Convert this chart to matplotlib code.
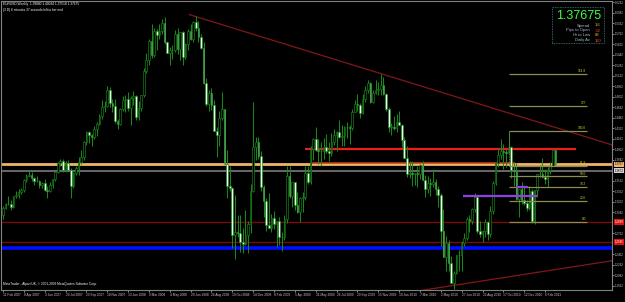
import matplotlib
matplotlib.use("Agg")
import matplotlib.pyplot as plt
from matplotlib.transforms import blended_transform_factory
from matplotlib.patches import Rectangle

# ---------------- data ----------------
first_open = 1.2990
highs = [
 # 2007
 1.3135,1.3185,1.3290,1.3220,1.3290,1.3370,1.3390,1.3405,1.3545,1.3615,1.3680,1.3650,1.3580,1.3585,1.3530,1.3500,
 1.3545,1.3435,1.3495,1.3545,1.3665,1.3805,1.3845,1.3850,1.3815,1.3840,1.3720,1.3645,1.3750,1.3875,1.3990,1.4130,
 1.4280,1.4280,1.4230,1.4350,1.4410,1.4530,1.4750,1.4730,1.4965,1.4950,1.4760,1.4760,1.4460,1.4630,1.4815,
 # 2008
 1.4825,1.4875,1.4815,1.4890,1.4820,1.4735,1.4830,1.5240,1.5460,1.5675,1.5905,1.5845,1.5825,1.5915,1.5985,1.6020,
 1.5650,1.5560,1.5595,1.5820,1.5845,1.5785,1.5800,1.5625,1.5825,1.5905,1.5960,1.6038,1.5950,1.5760,1.5630,1.5085,
 1.4905,1.4935,1.4745,1.4335,1.4575,1.4865,1.4610,1.3985,1.3745,1.3420,1.3300,1.3000,1.2990,1.2795,1.3070,1.2905,
 1.3475,1.4720,1.4190,1.4190,
 # 2009
 1.3970,1.3450,1.3260,1.3335,1.3010,1.3065,1.2910,1.2960,1.2740,1.2995,1.3740,1.3740,1.3500,1.3505,1.3345,1.3270,
 1.3350,1.3740,1.3740,1.4050,1.4170,1.4340,1.4150,1.4105,1.4165,1.4235,1.4115,1.4245,1.4305,1.4270,1.4445,1.4375,
 1.4350,1.4415,1.4370,1.4615,1.4755,1.4845,1.4700,1.4845,1.4970,1.5060,1.5030,1.4900,1.5060,1.5020,1.5145,1.5100,
 1.4860,1.4640,1.4405,1.4510,
 # 2010
 1.4530,1.4580,1.4385,1.4190,1.4045,1.3825,1.3820,1.3640,1.3740,1.3775,1.3825,1.3600,1.3585,1.3560,1.3695,1.3545,
 1.3445,1.3330,1.3095,1.2675,1.2620,1.2375,1.2145,1.2390,1.2470,1.2595,1.2720,1.2965,1.2990,1.3110,1.3335,1.3290,
 1.2910,1.2775,1.2935,1.2900,1.3135,1.3510,1.3790,1.4020,1.4160,1.4080,1.4000,1.4282,1.4045,1.3785,1.3785,1.3400,
 1.3495,1.3440,1.3220,1.3435,
 # 2011
 1.3400,1.3385,1.3620,1.3760,1.3860,1.3695,1.3725,1.3800,1.3990,1.40034,
]
lows = [
 # 2007
 1.2930,1.3090,1.3150,1.3080,1.3100,1.3260,1.3250,1.3320,1.3350,1.3500,1.3570,1.3510,1.3460,1.3500,1.3410,1.3405,
 1.3370,1.3260,1.3345,1.3410,1.3520,1.3630,1.3740,1.3650,1.3650,1.3680,1.3260,1.3410,1.3600,1.3600,1.3780,1.3830,
 1.4070,1.4090,1.4050,1.4150,1.4200,1.4365,1.4460,1.4560,1.4640,1.4640,1.4560,1.4400,1.4310,1.4370,1.4580,
 # 2008
 1.4570,1.4580,1.4365,1.4675,1.4440,1.4450,1.4580,1.4800,1.5160,1.5290,1.5390,1.5410,1.5510,1.5675,1.5755,1.5610,
 1.5460,1.5285,1.5375,1.5485,1.5455,1.5365,1.5285,1.5380,1.5515,1.5665,1.5630,1.5800,1.5640,1.5525,1.4990,1.4660,
 1.4580,1.4590,1.4270,1.3880,1.4045,1.4440,1.3770,1.3260,1.3360,1.2500,1.2330,1.2660,1.2440,1.2420,1.2545,1.2425,
 1.2715,1.3350,1.3840,1.3855,
 # 2009
 1.3360,1.2965,1.2760,1.2800,1.2735,1.2790,1.2510,1.2545,1.2455,1.2610,1.2880,1.3255,1.3115,1.3070,1.3030,1.2890,
 1.3050,1.3230,1.3465,1.3470,1.3840,1.3980,1.3780,1.3750,1.3850,1.3945,1.3820,1.3890,1.4060,1.3970,1.4170,1.4050,
 1.4050,1.4165,1.4080,1.4290,1.4565,1.4580,1.4480,1.4530,1.4715,1.4850,1.4700,1.4705,1.4835,1.4830,1.4825,1.4820,
 1.4585,1.4255,1.4220,1.4290,
 # 2010
 1.4255,1.4365,1.4030,1.3860,1.3580,1.3560,1.3440,1.3455,1.3430,1.3540,1.3525,1.3265,1.3335,1.3280,1.3420,1.3305,
 1.3115,1.2520,1.2350,1.2145,1.2145,1.1960,1.1876,1.2105,1.2150,1.2150,1.2525,1.2615,1.2745,1.2860,1.3045,1.2730,
 1.2660,1.2590,1.2660,1.2620,1.2665,1.3015,1.3450,1.3725,1.3850,1.3700,1.3725,1.3935,1.3560,1.3445,1.3220,1.2969,
 1.3160,1.3150,1.3055,1.3070,
 # 2011
 1.2875,1.2867,1.3265,1.3580,1.3565,1.3470,1.3430,1.3620,1.3745,1.37518,
]
closes = [
 # 2007
 1.3110,1.3160,1.3170,1.3120,1.3285,1.3300,1.3355,1.3380,1.3525,1.3595,1.3610,1.3560,1.3520,1.3515,1.3450,1.3480,
 1.3375,1.3365,1.3455,1.3540,1.3655,1.3785,1.3815,1.3685,1.3785,1.3680,1.3440,1.3635,1.3720,1.3800,1.3875,1.4105,
 1.4265,1.4210,1.4180,1.4310,1.4390,1.4500,1.4650,1.4660,1.4900,1.4710,1.4660,1.4425,1.4380,1.4610,1.4745,
 # 2008
 1.4765,1.4630,1.4780,1.4815,1.4495,1.4635,1.4825,1.5185,1.5360,1.5650,1.5430,1.5795,1.5745,1.5805,1.5930,1.5630,
 1.5465,1.5505,1.5515,1.5760,1.5530,1.5785,1.5410,1.5605,1.5805,1.5675,1.5935,1.5855,1.5705,1.5540,1.5010,1.4690,
 1.4860,1.4670,1.4280,1.4215,1.4470,1.4610,1.3775,1.3435,1.3405,1.2690,1.2740,1.2715,1.2580,1.2560,1.2690,1.2865,
 1.3360,1.4040,1.4105,1.3900,
 # 2009
 1.3430,1.3215,1.2840,1.2800,1.2950,1.2860,1.2910,1.2665,1.2660,1.2935,1.3585,1.3280,1.3495,1.3150,1.3045,1.3250,
 1.3275,1.3630,1.3500,1.4000,1.4160,1.3985,1.3975,1.3970,1.4040,1.3970,1.3945,1.4115,1.4215,1.4255,1.4180,1.4205,
 1.4335,1.4345,1.4325,1.4570,1.4695,1.4680,1.4550,1.4760,1.4905,1.5010,1.4720,1.4860,1.4895,1.4910,1.4975,1.4845,
 1.4610,1.4340,1.4345,1.4320,
 # 2010
 1.4410,1.4375,1.4145,1.3865,1.3620,1.3630,1.3615,1.3630,1.3625,1.3760,1.3530,1.3400,1.3485,1.3475,1.3505,1.3390,
 1.3295,1.2755,1.2355,1.2575,1.2265,1.1965,1.2110,1.2385,1.2380,1.2565,1.2640,1.2935,1.2905,1.3085,1.3275,1.2750,
 1.2710,1.2760,1.2895,1.2705,1.3055,1.3480,1.3785,1.3905,1.3975,1.3950,1.3945,1.4030,1.3680,1.3670,1.3240,1.3395,
 1.3220,1.3175,1.3105,1.3365,
 # 2011
 1.2905,1.3380,1.3615,1.3625,1.3580,1.3550,1.3690,1.3750,1.3985,1.37675,
]

date_labels = ["11 Feb 2007", "8 Apr 2007", "3 Jun 2007", "29 Jul 2007", "23 Sep 2007", "18 Nov 2007",
               "13 Jan 2008", "9 Mar 2008", "4 May 2008", "29 Jun 2008", "24 Aug 2008", "19 Oct 2008",
               "14 Dec 2008", "8 Feb 2009", "5 Apr 2009", "31 May 2009", "26 Jul 2009", "20 Sep 2009",
               "15 Nov 2009", "10 Jan 2010", "7 Mar 2010", "2 May 2010", "27 Jun 2010", "22 Aug 2010",
               "17 Oct 2010", "12 Dec 2010", "6 Feb 2011"]
date_label_bars = [0, 8, 16, 24, 32, 40, 48, 56, 64, 72, 80, 88, 96, 104, 112, 120, 128, 136, 144,
                   152, 160, 168, 176, 184, 192, 200, 208]

price_ticks = [1.6242, 1.6082, 1.5922, 1.5762, 1.5602, 1.5442, 1.5282, 1.5122, 1.4962, 1.4802,
               1.4642, 1.4482, 1.4322, 1.4162, 1.4002, 1.3842, 1.3522, 1.3362, 1.3202,
               1.3042, 1.2722, 1.2402, 1.2242, 1.2082, 1.1922]

# horizontal levels
bid_price = 1.37675
level_gray = 1.3672
level_darkred = [1.2889, 1.2585]
level_blue = 1.2493
red_seg = (116, 220, 1.4003)
orange_seg = (118, 196.5, 1.3790)
# trendlines (bar, price)
upper_trend = [(71.5, 1.6052), (145.0, 1.5152)]
lower_trend = [(161.0, 1.1850), (233.7, 1.2300)]
# fibonacci
fib_low, fib_high = 1.2889, 1.4282
fib_ratios = [0.0, 0.236, 0.382, 0.5, 0.618, 1.0, 1.27, 1.618]
fib_names = ["0.0", "23.6", "38.2", "50.0", "61.8", "100.0", "127", "161.8"]
fib_bars = (194.0, 224.0)
purple_segs = [(176.5, 205.0, 1.3285), (196.9, 201.5, 1.3420)]

header = "EURUSD,Weekly  1.39880 1.40034 1.37518 1.37675"
header2 = "(3 D) 6 minutes 37 seconds left to bar end"
footer = "MetaTrader - Alpari UK, \u00a9 2001-2009 MetaQuotes Software Corp."
info_labels = ["Spread", "Pips to Open", "Hi to Low", "Daily Av"]
info_values = ["1.6", "-32", "88", "120"]
info_colors = ["#e8c020", "#ff5030", "#e8c020", "#ff5030"]

# ---------------- layout ----------------
FONT = "Liberation Sans"
W, H = 625, 302
fig = plt.figure(figsize=(W / 100, H / 100), dpi=100, facecolor="black")
ax_l, ax_r, ax_t, ax_b = 1, 612, 1, 290
ax = fig.add_axes([ax_l / W, 1 - ax_b / H, (ax_r - ax_l) / W, (ax_b - ax_t) / H])
ax.set_facecolor("black")

scale = 656.0
p_top = 1.6038 + (15.5 - ax_t) / scale
p_bot = 1.6038 - (ax_b - 15.5) / scale
ax.set_ylim(p_bot, p_top)
bw = 2.606
ax.set_xlim((ax_l - 3) / bw, (ax_r - 3) / bw)

n = len(closes)
opens = [first_open] + closes[:-1]
xs = list(range(n))
WICK = "#17871a"
ax.vlines(xs, lows, highs, colors=WICK, linewidth=0.75, zorder=3)
for i in xs:
    o, c = opens[i], closes[i]
    bottom = min(o, c)
    h = max(abs(c - o), 0.0006)
    fc = "#000000" if c >= o else "#e8ffe8"
    ax.add_patch(Rectangle((i - 0.32, bottom), 0.64, h, facecolor=fc, edgecolor=WICK,
                           linewidth=0.45, zorder=4))

# horizontal lines
ax.axhline(bid_price, color="#f0b466", linewidth=2.0, zorder=2)
ax.axhline(level_gray, color="#7a7a7a", linewidth=1.2, zorder=2)
for lv in level_darkred:
    ax.axhline(lv, color="#780c0c", linewidth=1.0, zorder=2)
ax.axhline(level_blue, color="#0010ff", linewidth=2.6, zorder=2)
ax.hlines(red_seg[2], red_seg[0], red_seg[1], color="#ee1c1c", linewidth=1.6, zorder=2)
ax.hlines(orange_seg[2], orange_seg[0], orange_seg[1], color="#c84020", linewidth=1.1, zorder=2)

# trendlines (rays to the right)
for pts in (upper_trend, lower_trend):
    (x0, y0), (x1, y1) = pts
    slope = (y1 - y0) / (x1 - x0)
    xe = 240
    ax.plot([x0, xe], [y0, y0 + slope * (xe - x0)], color="#801818", linewidth=0.9, zorder=2)

# fibonacci
for r, name in zip(fib_ratios, fib_names):
    lv = fib_low + r * (fib_high - fib_low)
    ax.hlines(lv, fib_bars[0], fib_bars[1], color="#8c8c50", linewidth=0.9, zorder=5)
    ax.text(fib_bars[1] - 0.3, lv + 0.0012, name, color="#d8d820", fontsize=2.3,
            ha="right", va="bottom", zorder=6, family=FONT)
ax.vlines(fib_bars[0], fib_low + 0.618 * (fib_high - fib_low), fib_high, color="#8c8c50",
          linewidth=0.6, linestyles=(0, (1, 1)), zorder=5)
for x0, x1, lv in purple_segs:
    ax.hlines(lv, x0, x1, color="#9040e0", linewidth=1.6, zorder=5)

# axes styling
for s in ax.spines.values():
    s.set_color("#808080")
    s.set_linewidth(0.8)
ax.yaxis.tick_right()
ax.set_yticks(price_ticks)
ax.set_yticklabels([f"{p:.4f}" for p in price_ticks], family=FONT)
ax.tick_params(axis="y", colors="#c8c8c8", labelsize=2.1, length=1.5, width=0.5, pad=0.8)
ax.set_xticks(date_label_bars)
ax.set_xticklabels(date_labels, ha="left", family=FONT)
ax.tick_params(axis="x", colors="#c8c8c8", labelsize=2.3, length=1.5, width=0.5, pad=1)

# price boxes on axis
tr = blended_transform_factory(ax.transAxes, ax.transData)
boxes = [(bid_price, "#f0b466", "black"), (level_gray, "#d0d0d0", "black"),
         (level_darkred[0], "#e01010", "white"), (level_darkred[1], "#e01010", "white")]
for lv, fc, tc in boxes:
    ax.text(1.004, lv, f"{lv:.4f}", transform=tr, fontsize=2.1, color=tc, ha="left", va="center",
            bbox=dict(facecolor=fc, edgecolor="none", pad=0.5), clip_on=False, zorder=10,
            family=FONT)

# texts
fig.text(3 / W, 1 - 4 / H, header, color="white", fontsize=2.3, ha="left", va="center", family=FONT)
fig.text(3 / W, 1 - 10 / H, header2, color="white", fontsize=2.3, ha="left", va="center", family=FONT)
fig.text(3 / W, 1 - 284 / H, footer, color="white", fontsize=2.3, ha="left", va="center", family=FONT)

# info box
fig.patches.append(Rectangle((552 / W, 1 - 43 / H), 52 / W, 36 / H, transform=fig.transFigure,
                             facecolor="black", edgecolor="#3f7f7f", linewidth=0.6,
                             linestyle=(0, (1, 1)), zorder=20))
fig.text(579 / W, 1 - 16 / H, f"{bid_price:.5f}", color="#40ff40", fontsize=9, ha="center",
         va="center", family=FONT, zorder=21)
for k, (lab, val, col) in enumerate(zip(info_labels, info_values, info_colors)):
    yy = 1 - (25.5 + 5 * k) / H
    fig.text(590 / W, yy, lab, color="#a8b8d0", fontsize=3.0, ha="right", va="center",
             family=FONT, zorder=21)
    fig.text(595 / W, yy, val, color=col, fontsize=3.0, ha="left", va="center",
             family=FONT, zorder=21)

fig.savefig("out.png", dpi=100, facecolor="black")
